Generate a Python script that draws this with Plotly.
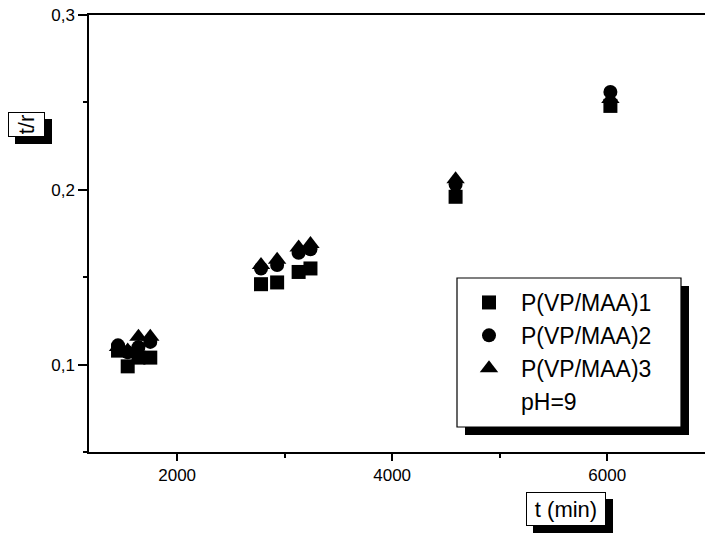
import plotly.graph_objects as go

# Data
t_min = [1450, 1540, 1640, 1750, 2780, 2930, 3130, 3240, 4590, 6030]
tr_1 = [0.108, 0.099, 0.104, 0.104, 0.146, 0.147, 0.153, 0.155, 0.196, 0.248]
tr_2 = [0.111, 0.107, 0.110, 0.113, 0.155, 0.157, 0.164, 0.166, 0.203, 0.256]
tr_3 = [0.110, 0.108, 0.116, 0.116, 0.157, 0.160, 0.167, 0.169, 0.206, 0.252]
series_names = ["P(VP/MAA)1", "P(VP/MAA)2", "P(VP/MAA)3"]
note_label = "pH=9"
x_title = "t (min)"
y_title = "t/r"

W, H = 705, 535
ML, MR, MT, MB = 89, 0, 15, 83
PW, PH = W - ML - MR, H - MT - MB

def px_to_paper(px, py):
    return (px - ML) / PW, (H - MB - py) / PH

FONT = "Liberation Sans, Arial, sans-serif"

fig = go.Figure()
symbols = ["square", "circle", "triangle-up"]
sizes = [14, 14, 16]
for i, (name, ys) in enumerate(zip(series_names, [tr_1, tr_2, tr_3])):
    fig.add_trace(go.Scatter(
        x=t_min, y=ys, mode="markers", name=name,
        marker=dict(symbol=symbols[i], size=sizes[i], color="black"),
        legendgroup=f"g{i}",
    ))
fig.add_trace(go.Scatter(
    x=[None], y=[None], mode="markers", name=note_label,
    marker=dict(symbol="square", size=10, color="rgba(0,0,0,0)"),
    legendgroup="g3",
))

shapes = []
annotations = []

def box(x0, y0, x1, y1, off, with_frame=False):
    a0, b0 = px_to_paper(x0 + off, y1 + off)
    a1, b1 = px_to_paper(x1 + off, y0 + off)
    shapes.append(dict(type="rect", xref="paper", yref="paper",
                       x0=a0, y0=b0, x1=a1, y1=b1,
                       fillcolor="black", line=dict(width=0), layer="above"))
    if with_frame:
        a0, b0 = px_to_paper(x0, y1)
        a1, b1 = px_to_paper(x1, y0)
        shapes.append(dict(type="rect", xref="paper", yref="paper",
                           x0=a0, y0=b0, x1=a1, y1=b1,
                           fillcolor="white", line=dict(width=1.2, color="black"),
                           layer="above"))

# x title box
bx0, by0, bx1, by1 = 526, 492, 606, 526
cx, cy = px_to_paper((bx0 + bx1) / 2, (by0 + by1) / 2)
box(bx0, by0, bx1, by1, 7)
annotations.append(dict(text=x_title, xref="paper", yref="paper", x=cx, y=cy,
                        xanchor="center", yanchor="middle", showarrow=False,
                        font=dict(family=FONT, size=22, color="black"),
                        bgcolor="white", bordercolor="black", borderwidth=1,
                        borderpad=1, width=76, height=30))

# y title box
bx0, by0, bx1, by1 = 8, 112, 45, 137
cx, cy = px_to_paper((bx0 + bx1) / 2, (by0 + by1) / 2)
box(bx0, by0, bx1, by1, 7)
annotations.append(dict(text=y_title, xref="paper", yref="paper", x=cx, y=cy,
                        xanchor="center", yanchor="middle", showarrow=False,
                        textangle=-90,
                        font=dict(family=FONT, size=22, color="black"),
                        bgcolor="white", bordercolor="black", borderwidth=1,
                        borderpad=1, width=21, height=33))

# legend frame + shadow
lx0, ly0, lx1, ly1 = 457, 278, 681, 427
box(lx0, ly0, lx1, ly1, 8, with_frame=True)
lgx, lgy = px_to_paper(lx0, ly0 + 3)

fig.update_layout(
    width=W, height=H,
    margin=dict(l=ML, r=MR, t=MT, b=MB, pad=0),
    paper_bgcolor="white", plot_bgcolor="white",
    separators=", ",
    font=dict(family=FONT, size=15, color="black"),
    showlegend=True,
    legend=dict(x=lgx, y=lgy, xanchor="left", yanchor="top",
                bgcolor="rgba(0,0,0,0)", borderwidth=0,
                font=dict(family=FONT, size=23, color="black"),
                tracegroupgap=0, itemwidth=54),
    shapes=shapes,
    annotations=annotations,
)

fig.update_xaxes(range=[1180, 6910], showgrid=False, zeroline=False,
                 showline=True, linecolor="black", linewidth=1.5, mirror=True,
                 ticks="outside", ticklen=7, tickwidth=1.5, tickcolor="black",
                 tick0=0, dtick=2000, tickfont=dict(size=17),
                 minor=dict(ticks="outside", ticklen=4, tickwidth=1.5,
                            dtick=1000, tick0=0, tickcolor="black", showgrid=False))
fig.update_yaxes(range=[0.05, 0.3], showgrid=False, zeroline=False,
                 showline=True, linecolor="black", linewidth=1.5, mirror=False,
                 ticks="outside", ticklen=9, tickwidth=1.5, tickcolor="black",
                 tick0=0, dtick=0.1, tickformat=".1f", tickfont=dict(size=17),
                 minor=dict(ticks="outside", ticklen=4, tickwidth=1.5,
                            dtick=0.05, tick0=0, tickcolor="black", showgrid=False))

fig.write_html("out.html")
